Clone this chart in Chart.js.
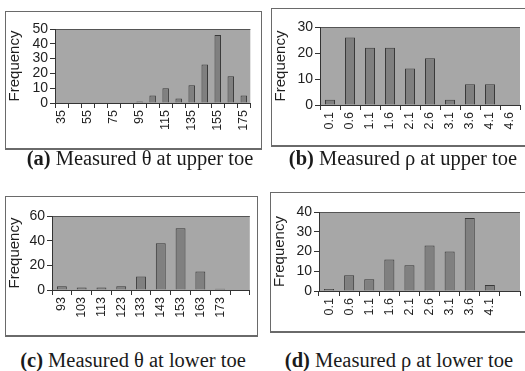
<!DOCTYPE html>
<html lang="en">
<head>
  <meta charset="UTF-8">
  <title>Measured angle and ratio histograms</title>
  <script src="https://cdn.jsdelivr.net/npm/chart.js"></script>
  <style>
    body { margin: 0; background: #fff; width: 525px; height: 371px; position: relative; overflow: hidden; }
    .box { position: absolute; border: 1px solid #6a6a6a; border-bottom-width: 2px; background: #fff; }
    .box canvas { position: absolute; left: 0; top: 0; }
    .cap { position: absolute; font-family: 'Liberation Serif', serif; font-size: 20.5px; color: #1a1a1a; white-space: nowrap; text-align: center; }
    .cap b { font-weight: bold; }
  </style>
</head>
<body>
  <div class="box" id="boxA"><canvas id="chartA"></canvas></div>
  <div class="box" id="boxB"><canvas id="chartB"></canvas></div>
  <div class="box" id="boxC"><canvas id="chartC"></canvas></div>
  <div class="box" id="boxD"><canvas id="chartD"></canvas></div>

  <div class="cap" style="left:5px; top:147px; width:270px;"><b>(a)</b> Measured &theta; at upper toe</div>
  <div class="cap" style="left:271px; top:147px; width:264px;"><b>(b)</b> Measured &rho; at upper toe</div>
  <div class="cap" style="left:5px; top:349px; width:256px;"><b>(c)</b> Measured &theta; at lower toe</div>
  <div class="cap" style="left:270px; top:349px; width:258px;"><b>(d)</b> Measured &rho; at lower toe</div>

  <script>
    // (a) theta, upper toe
    const upperThetaBins = ['35', '45', '55', '65', '75', '85', '95', '105', '115', '125', '135', '145', '155', '165', '175'];
    const upperThetaFreq = [0, 0, 0, 0, 0, 0, 1, 5, 10, 3, 12, 26, 46, 18, 5];

    // (b) rho, upper toe
    const upperRhoBins = ['0.1', '0.6', '1.1', '1.6', '2.1', '2.6', '3.1', '3.6', '4.1', '4.6'];
    const upperRhoFreq = [2, 26, 22, 22, 14, 18, 2, 8, 8, 0];

    // (c) theta, lower toe (last bin has no label)
    const lowerThetaBins = ['93', '103', '113', '123', '133', '143', '153', '163', '173', ''];
    const lowerThetaFreq = [3, 2, 2, 3, 11, 38, 50, 15, 1, 0];

    // (d) rho, lower toe (last bin has no label)
    const lowerRhoBins = ['0.1', '0.6', '1.1', '1.6', '2.1', '2.6', '3.1', '3.6', '4.1', ''];
    const lowerRhoFreq = [1, 8, 6, 16, 13, 23, 20, 37, 3, 0];

    // y axis ranges
    const yMaxA = 50, yStepA = 10;
    const yMaxB = 30, yStepB = 10;
    const yMaxC = 60, yStepC = 20;
    const yMaxD = 40, yStepD = 10;

    Chart.defaults.font.family = "'Liberation Sans', Arial, sans-serif";
    Chart.defaults.color = '#1e1e1e';
    Chart.defaults.animation = false;

    // grey plot area + dark top edge, like the old spreadsheet style
    const plotBg = {
      id: 'plotBg',
      beforeDraw(chart) {
        const { ctx, chartArea: a } = chart;
        ctx.save();
        ctx.fillStyle = '#a7a7a7';
        ctx.fillRect(a.left, a.top, a.right - a.left, a.bottom - a.top);
        ctx.strokeStyle = '#555';
        ctx.lineWidth = 1;
        ctx.beginPath();
        ctx.moveTo(a.left, a.top + 0.5);
        ctx.lineTo(a.right, a.top + 0.5);
        ctx.stroke();
        ctx.restore();
      }
    };

    // box = panel frame in page px, plot = plot area in page px
    function histogram(id, boxId, labels, values, yMax, yStep, everyOther, box, plot) {
      const el = document.getElementById(boxId);
      el.style.left = box.x + 'px';
      el.style.top = box.y + 'px';
      el.style.width = box.w + 'px';
      el.style.height = box.h + 'px';

      const cx = box.x + 1, cy = box.y + 1;
      const canvas = document.getElementById(id);
      canvas.width = box.w;
      canvas.height = box.h;

      new Chart(canvas, {
        type: 'bar',
        data: {
          labels: labels,
          datasets: [{
            data: values,
            backgroundColor: '#808080',
            borderColor: '#3a3a3a',
            borderWidth: 1,
            barPercentage: 0.5,
            categoryPercentage: 1
          }]
        },
        options: {
          responsive: false,
          layout: {
            padding: { left: 0, top: plot.t - cy, right: cx + box.w - plot.r, bottom: 0 }
          },
          plugins: { legend: { display: false }, tooltip: { enabled: false } },
          scales: {
            x: {
              grid: { offset: true, drawOnChartArea: false, tickLength: 5, color: '#333' },
              border: { color: '#333', width: 1 },
              ticks: {
                autoSkip: false,
                minRotation: 90,
                maxRotation: 90,
                padding: 2,
                font: { size: 12.5 },
                callback: function (v, i) {
                  if (everyOther && i % 2 !== 0) return '';
                  return this.getLabelForValue(v);
                }
              },
              afterFit(scale) { scale.height = cy + box.h - plot.b; }
            },
            y: {
              min: 0,
              max: yMax,
              ticks: { stepSize: yStep, autoSkip: false, font: { size: 14 }, padding: 2 },
              grid: { drawOnChartArea: false, tickLength: 5, color: '#333' },
              border: { color: '#333', width: 1 },
              title: { display: true, text: 'Frequency', font: { size: 15 }, padding: 0 },
              afterFit(scale) { scale.width = plot.l - cx; }
            }
          }
        },
        plugins: [plotBg]
      });
    }

    histogram('chartA', 'boxA', upperThetaBins, upperThetaFreq, yMaxA, yStepA, true,
      { x: 5, y: 11, w: 255, h: 136 }, { l: 55, t: 29, r: 255, b: 103 });
    histogram('chartB', 'boxB', upperRhoBins, upperRhoFreq, yMaxB, yStepB, false,
      { x: 271, y: 8, w: 260, h: 136 }, { l: 320, t: 27, r: 520, b: 105 });
    histogram('chartC', 'boxC', lowerThetaBins, lowerThetaFreq, yMaxC, yStepC, false,
      { x: 5, y: 196, w: 251, h: 138 }, { l: 52, t: 216, r: 255, b: 290 });
    histogram('chartD', 'boxD', lowerRhoBins, lowerRhoFreq, yMaxD, yStepD, false,
      { x: 270, y: 192, w: 260, h: 138 }, { l: 319, t: 212, r: 520, b: 291 });
  </script>
</body>
</html>
